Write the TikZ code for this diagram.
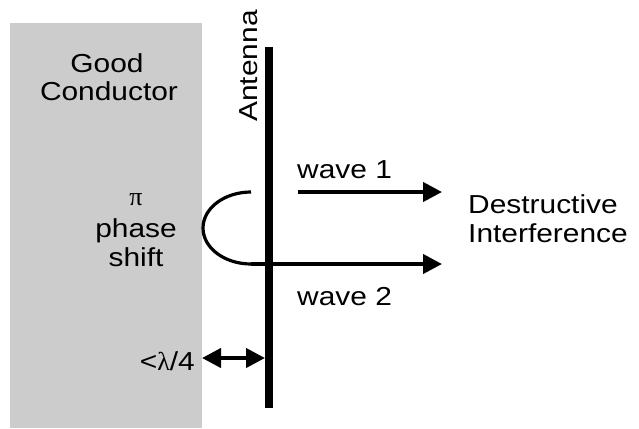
\documentclass[tikz,border=0pt]{standalone}
\usepackage{fontspec}
\setmainfont{Liberation Sans}[FakeStretch=1.15]
\newfontfamily\greekfont{Liberation Serif}
\usetikzlibrary{arrows.meta}
\begin{document}
\begin{tikzpicture}[x=1pt,y=-1pt,
  lbl/.style={font=\fontsize{26}{28}\selectfont, inner sep=0pt, anchor=base},
  wave/.style={line width=4pt, -{Triangle[length=19pt,width=19pt]}},
  dbl/.style={line width=4pt, {Triangle[length=19pt,width=19pt]}-{Triangle[length=19pt,width=19pt]}},
  loop/.style={line width=3.2pt}]
\useasboundingbox (0,0) rectangle (639,428);
\fill[fill={rgb,255:red,204;green,204;blue,204}] (10,23) rectangle (202,428);
\fill[black] (265,47) rectangle (273,408);
\node[lbl] (good) at (107,72) {Good};
\node[lbl] (cond) at (109,100) {Conductor};
\node[lbl, rotate=90] (ant) at (257,66) {Antenna};
\node[lbl, anchor=center] (pi) at (136,200) {\greekfont π};
\node[lbl] (phase) at (136,237) {phase};
\node[lbl] (shift) at (136,266) {shift};
\node[lbl, anchor=base west] (des) at (468,213) {Destructive};
\node[lbl, anchor=base west] (int) at (468,242) {Interference};
\node[lbl, anchor=base west] (w1) at (297,178) {wave 1};
\node[lbl, anchor=base west] (w2) at (297,305) {wave 2};
\node[lbl, anchor=base east] (lam) at (195,370) {<{\greekfont λ}/4};
\coordinate (a1) at (298,192);
\coordinate (b1) at (442,192);
\coordinate (top) at (251,192);
\coordinate (a2) at (251,264);
\coordinate (b2) at (442,264);
\coordinate (l1) at (202,358);
\coordinate (l2) at (265,358);
\draw[wave] (a1) -- (b1);
\draw[loop] (top) arc[start angle=270, end angle=90, x radius=48, y radius=36];
\draw[wave] (a2) -- (b2);
\draw[dbl] (l1) -- (l2);
\end{tikzpicture}
\end{document}
